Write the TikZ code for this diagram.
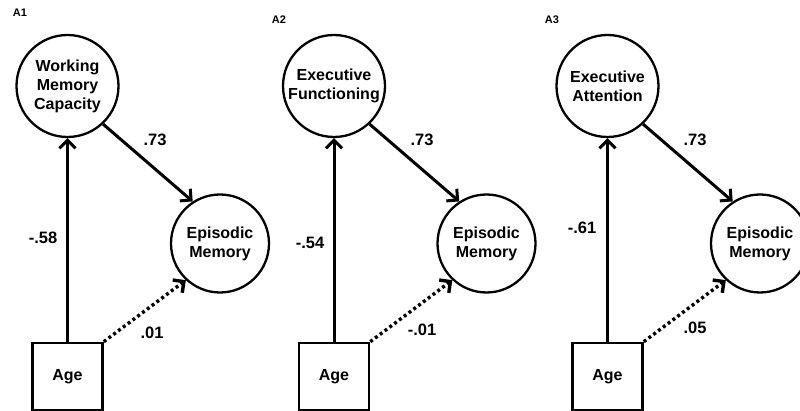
\documentclass[tikz,border=0pt]{standalone}
\usepackage{fontspec}
\setmainfont{Liberation Sans}
\usetikzlibrary{arrows.meta}
\tikzset{
    latent/.style={circle, draw, line width=2.3pt, inner sep=0pt, align=center,
        font=\bfseries\fontsize{16}{19}\selectfont},
    observed/.style={rectangle, draw, line width=2.6pt, minimum width=70pt, minimum height=67pt,
        font=\bfseries\fontsize{16}{19}\selectfont},
    coef/.style={font=\bfseries\fontsize{16.5}{19}\selectfont},
    paneltag/.style={font=\bfseries\fontsize{11}{13}\selectfont}
}
\newcommand{\drawpath}{\draw[-{Straight Barb[length=8pt,width=16pt]}, line width=3pt]}
\newcommand{\drawdotted}{\draw[-{Straight Barb[length=8pt,width=16pt]}, line width=3.4pt, dash pattern=on 3pt off 3pt]}

\begin{document}
\begin{tikzpicture}[x=1pt, y=1pt]
    \useasboundingbox (0,0) rectangle (800,411);

    % Draw the three models
    \foreach \n/\dx/\lat in {1/0/{Working\\Memory\\Capacity}, 2/266.5/{Executive\\Functioning}, 3/540/{Executive\\Attention}} {
        \node[latent, minimum size=102pt] (lat\n) at (67.5+\dx, 325) {\lat};
        \node[latent, minimum size=98pt] (em\n) at (220+\dx, 167.5) {Episodic\\Memory};
        \node[observed] (age\n) at (67.5+\dx, 34.5) {Age};

        % Draw paths
        \drawpath (age\n.north) -- (lat\n.south);
        \drawpath (lat\n.-47) -- (em\n.123);
        \drawdotted (age\n.north east) -- (em\n.-133);
    }

    % Panel tags
    \node[paneltag] (tag1) at (20, 398) {A1};
    \node[paneltag] (tag2) at (279, 391.5) {A2};
    \node[paneltag] (tag3) at (552, 391) {A3};

    % Path coefficients
    \node[coef] (w1) at (155, 271) {.73};
    \node[coef] (a1) at (43, 173) {-.58};
    \node[coef] (d1) at (152, 78) {.01};

    \node[coef] (w2) at (422, 271) {.73};
    \node[coef] (a2) at (310, 168) {-.54};
    \node[coef] (d2) at (422, 81) {-.01};

    \node[coef] (w3) at (695, 271) {.73};
    \node[coef] (a3) at (582, 183) {-.61};
    \node[coef] (d3) at (695, 83) {.05};
\end{tikzpicture}
\end{document}
